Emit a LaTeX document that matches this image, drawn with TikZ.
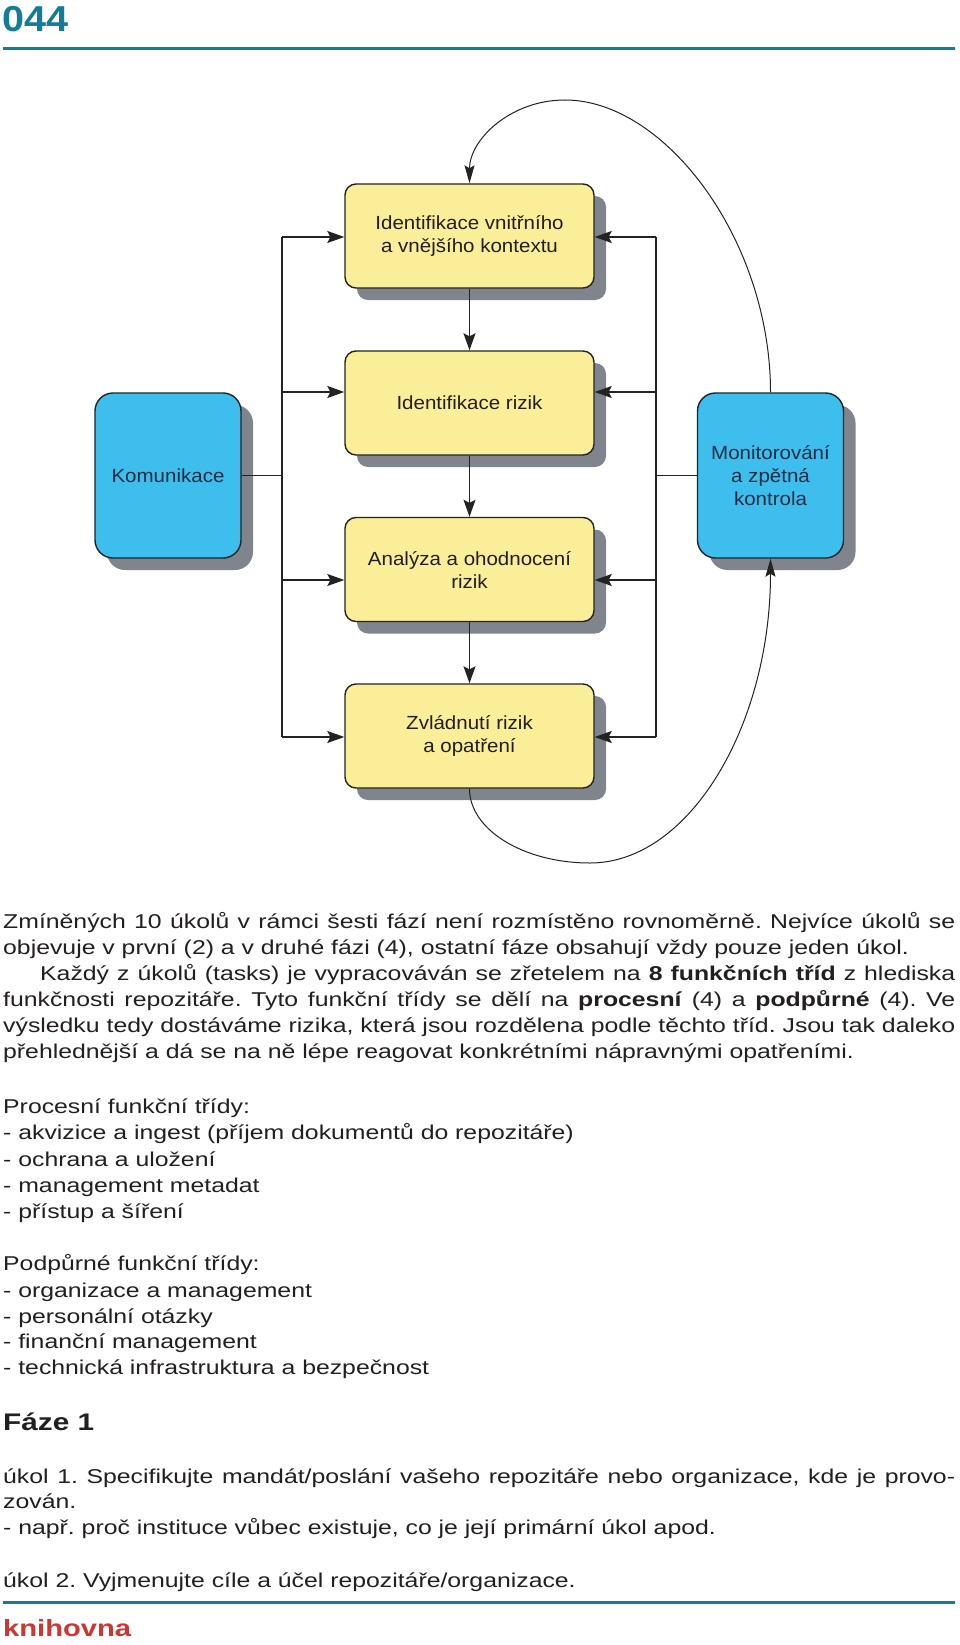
\documentclass[tikz,border=0pt]{standalone}
\usepackage{fontspec}
\setmainfont{Liberation Sans}
\newfontfamily\bodyfont[FakeStretch=1.24]{Liberation Sans}
\newfontfamily\boxfont[FakeStretch=1.08]{Liberation Sans}
\newfontfamily\numfont[FakeStretch=1.1]{Liberation Sans}
\usetikzlibrary{arrows.meta,shadows}
\frenchspacing

\definecolor{petrol}{RGB}{18,124,153}
\definecolor{brick}{RGB}{205,55,50}
\definecolor{yel}{RGB}{251,238,152}
\definecolor{sky}{RGB}{62,190,236}
\definecolor{shadowgray}{RGB}{128,132,140}
\definecolor{edge}{RGB}{35,35,35}
\definecolor{ink}{RGB}{35,31,32}
\definecolor{navy}{RGB}{25,45,70}

\begin{document}
\begin{tikzpicture}[x=1pt, y=-1pt]

\tikzset{
	ybox/.style={draw=edge, line width=1.4pt, fill=yel, rounded corners=11pt,
		minimum width=249pt, minimum height=104pt, align=center, text=ink,
		font=\boxfont\fontsize{19}{23}\selectfont,
		drop shadow={shadow xshift=12pt, shadow yshift=-12pt, fill=shadowgray, opacity=1}},
	bbox/.style={ybox, fill=sky, rounded corners=18pt, minimum width=146pt, minimum height=165pt, text=navy},
	conn/.style={-{Stealth[length=17pt, width=12pt, inset=3pt]}, line width=1.3pt, draw=edge},
	bus/.style={line width=1.3pt, draw=edge},
	arcline/.style={-{Stealth[length=18pt, width=10pt, inset=3pt]}, line width=1pt, draw=edge},
	rule/.style={line width=3pt, draw=petrol},
	txt/.style={anchor=base west, inner sep=0pt, text=ink, font=\bodyfont\fontsize{20}{26}\selectfont},
}

\useasboundingbox (0,0) rectangle (960,1645);
\fill[white] (0,0) rectangle (960,1645);

% header
\node[txt, text=petrol, font=\numfont\bfseries\fontsize{36}{36}\selectfont] (num) at (2,32) {044};
\draw[rule] (3,49) -- (955,49);

% process boxes
\node[ybox] (ctx) at (469.5,236) {Identifikace vnitřního\\a vnějšího kontextu};
\node[ybox] (risk) at (469.5,403) {Identifikace rizik};
\node[ybox] (anal) at (469.5,569.5) {Analýza a ohodnocení\\rizik};
\node[ybox] (treat) at (469.5,736) {Zvládnutí rizik\\a opatření};

\node[bbox] (kom) at (168,475.5) {Komunikace};
\node[bbox] (mon) at (770.5,475.5) {Monitorování\\a zpětná\\kontrola};

\foreach \a/\b in {ctx/risk, risk/anal, anal/treat}
	\draw[conn] (\a) -- (\b);

% side buses
\coordinate (lt) at (282,237);
\coordinate (lb) at (282,737);
\coordinate (rt) at (656,237);
\coordinate (rb) at (656,737);
\draw[bus] (lt) -- (lb);
\draw[bus] (rt) -- (rb);

\foreach \n/\y in {ctx/237, risk/392, anal/580, treat/737}{
	\coordinate (l-\n) at (282,\y);
	\coordinate (r-\n) at (656,\y);
	\draw[conn] (l-\n) -- (l-\n -| \n.west);
	\draw[conn] (r-\n) -- (r-\n -| \n.east);
}

\draw[bus] (kom.east) -- (kom.east -| lt);
\draw[bus] (mon.west) -- (mon.west -| rt);

% feedback loops
\draw[arcline] (mon.north) .. controls (770.5,240) and (665,100) .. (565,100)
	.. controls (510,100) and (469.5,140) .. (ctx.north);
\draw[arcline] (treat.south) .. controls (469.5,830) and (524,863) .. (590,863)
	.. controls (689,863) and (770.5,726) .. (mon.south);

% text
\node[txt] (p1a) at (3,928) {\makebox[952pt][s]{Zmíněných 10 úkolů v rámci šesti fází není rozmístěno rovnoměrně. Nejvíce úkolů se}};
\node[txt] (p1b) at (3,954) {objevuje v první (2) a v druhé fázi (4), ostatní fáze obsahují vždy pouze jeden úkol.};
\node[txt] (p2a) at (40,980) {\makebox[915pt][s]{Každý z úkolů (tasks) je vypracováván se zřetelem na \textbf{8 funkčních tříd} z hlediska}};
\node[txt] (p2b) at (3,1006) {\makebox[952pt][s]{funkčnosti repozitáře. Tyto funkční třídy se dělí na \textbf{procesní} (4) a \textbf{podpůrné} (4). Ve}};
\node[txt] (p2c) at (3,1032) {\makebox[952pt][s]{výsledku tedy dostáváme rizika, která jsou rozdělena podle těchto tříd. Jsou tak daleko}};
\node[txt] (p2d) at (3,1058) {přehlednější a dá se na ně lépe reagovat konkrétními nápravnými opatřeními.};

\node[txt] (pr0) at (3,1113) {Procesní funkční třídy:};
\node[txt] (pr1) at (3,1139) {- akvizice a ingest (příjem dokumentů do repozitáře)};
\node[txt] (pr2) at (3,1166) {- ochrana a uložení};
\node[txt] (pr3) at (3,1192) {- management metadat};
\node[txt] (pr4) at (3,1218) {- přístup a šíření};

\node[txt] (po0) at (3,1270) {Podpůrné funkční třídy:};
\node[txt] (po1) at (3,1297) {- organizace a management};
\node[txt] (po2) at (3,1323) {- personální otázky};
\node[txt] (po3) at (3,1348) {- finanční management};
\node[txt] (po4) at (3,1374) {- technická infrastruktura a bezpečnost};

\node[txt, font=\bodyfont\bfseries\fontsize{24}{26}\selectfont] (faze) at (3,1430) {Fáze 1};

\node[txt] (u1a) at (3,1483) {\makebox[952pt][s]{úkol 1. Specifikujte mandát/poslání vašeho repozitáře nebo organizace, kde je provo-}};
\node[txt] (u1b) at (3,1508) {zován.};
\node[txt] (u1c) at (3,1534) {- např. proč instituce vůbec existuje, co je její primární úkol apod.};
\node[txt] (u2) at (3,1587) {úkol 2. Vyjmenujte cíle a účel repozitáře/organizace.};

% footer
\draw[rule] (3,1602) -- (955,1602);
\node[txt, text=brick, font=\bodyfont\bfseries\fontsize{23.5}{26}\selectfont] (lib) at (3,1636) {knihovna};

\end{tikzpicture}
\end{document}
